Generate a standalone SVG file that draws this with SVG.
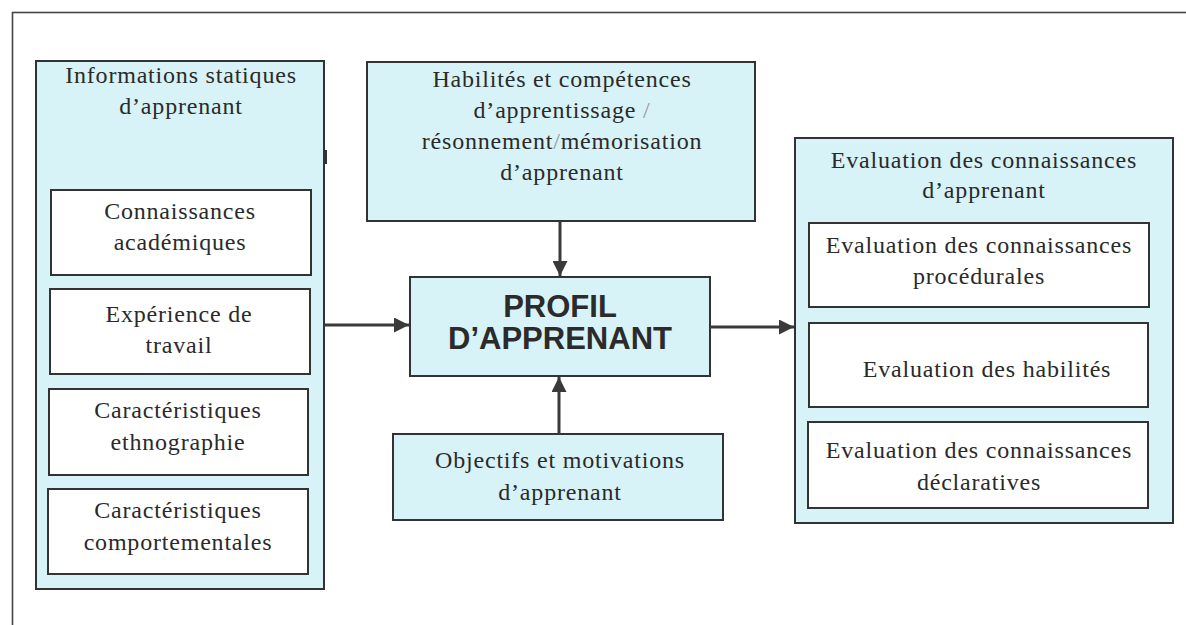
<svg xmlns="http://www.w3.org/2000/svg" width="1186" height="625" viewBox="0 0 1186 625">
  <defs>
    <style>
      .panel { fill: #d7f3f7; stroke: #333; stroke-width: 2; }
      .inner { fill: #ffffff; stroke: #333; stroke-width: 2; }
      .frame { fill: none; stroke: #444; stroke-width: 1.6; }
      .txt { font-family: "Liberation Serif", "Times New Roman", serif; font-size: 24px; fill: #2a2a2a; text-anchor: middle; letter-spacing: 0.8px; }
      .title { font-family: "Liberation Sans", Arial, sans-serif; font-weight: bold; font-size: 31px; fill: #2b2b2b; text-anchor: middle; }
      .sep { fill: #9a9a9a; }
      .conn { stroke: #3a3a3a; stroke-width: 3; fill: none; marker-end: url(#arrow); }
    </style>
    <marker id="arrow" viewBox="0 0 10 10" refX="10" refY="5" markerWidth="5" markerHeight="5" orient="auto" markerUnits="strokeWidth">
      <path d="M0,0 L10,5 L0,10 z" fill="#3a3a3a"/>
    </marker>
  </defs>

  <rect width="1186" height="625" fill="#ffffff"/>

  <!-- outer frame, running past the right and bottom edges -->
  <rect class="frame" x="12.5" y="12.5" width="1200" height="700"/>

  <!-- static learner information -->
  <g id="informations-statiques">
    <rect class="panel" x="36" y="61" width="288" height="528"/>
    <rect x="324" y="150" width="3" height="14" fill="#333"/>
    <text class="txt" x="181" y="83">Informations statiques</text>
    <text class="txt" x="181" y="114">d’apprenant</text>
  </g>
  <g id="connaissances-academiques">
    <rect class="inner" x="51" y="190" width="260" height="85"/>
    <text class="txt" x="180" y="219">Connaissances</text>
    <text class="txt" x="180" y="250">académiques</text>
  </g>
  <g id="experience-travail">
    <rect class="inner" x="50" y="289" width="260" height="85"/>
    <text class="txt" x="179" y="322">Expérience de</text>
    <text class="txt" x="179" y="353">travail</text>
  </g>
  <g id="caracteristiques-ethnographie">
    <rect class="inner" x="49" y="389" width="259" height="86"/>
    <text class="txt" x="178" y="418">Caractéristiques</text>
    <text class="txt" x="178" y="450">ethnographie</text>
  </g>
  <g id="caracteristiques-comportementales">
    <rect class="inner" x="48" y="489" width="260" height="85"/>
    <text class="txt" x="178" y="518">Caractéristiques</text>
    <text class="txt" x="178" y="550">comportementales</text>
  </g>

  <!-- learning skills -->
  <g id="habilites-competences">
    <rect class="panel" x="367" y="62" width="388" height="159"/>
    <text class="txt" x="562" y="87">Habilités et compétences</text>
    <text class="txt" x="562" y="118">d’apprentissage <tspan class="sep">/</tspan></text>
    <text class="txt" x="562" y="149">résonnement<tspan class="sep">/</tspan>mémorisation</text>
    <text class="txt" x="562" y="180">d’apprenant</text>
  </g>

  <!-- central learner profile -->
  <g id="profil-apprenant">
    <rect class="panel" x="410" y="277" width="300" height="99"/>
    <text class="title" x="560" y="317">PROFIL</text>
    <text class="title" x="560" y="349">D’APPRENANT</text>
  </g>

  <!-- goals and motivation -->
  <g id="objectifs-motivations">
    <rect class="panel" x="393" y="434" width="330" height="86"/>
    <text class="txt" x="560" y="468">Objectifs et motivations</text>
    <text class="txt" x="560" y="500">d’apprenant</text>
  </g>

  <!-- knowledge assessment -->
  <g id="evaluation-connaissances">
    <rect class="panel" x="795" y="138" width="378" height="385"/>
    <text class="txt" x="984" y="168">Evaluation des connaissances</text>
    <text class="txt" x="984" y="198">d’apprenant</text>
  </g>
  <g id="evaluation-procedurales">
    <rect class="inner" x="809" y="223" width="340" height="84"/>
    <text class="txt" x="979" y="253">Evaluation des connaissances</text>
    <text class="txt" x="979" y="284">procédurales</text>
  </g>
  <g id="evaluation-habilites">
    <rect class="inner" x="809" y="323" width="339" height="84"/>
    <text class="txt" x="987" y="377">Evaluation des habilités</text>
  </g>
  <g id="evaluation-declaratives">
    <rect class="inner" x="808" y="422" width="340" height="86"/>
    <text class="txt" x="979" y="458">Evaluation des connaissances</text>
    <text class="txt" x="979" y="490">déclaratives</text>
  </g>

  <!-- connectors -->
  <g id="connectors">
    <line class="conn" x1="560" y1="221" x2="560" y2="276"/>
    <line class="conn" x1="559" y1="434" x2="559" y2="377"/>
    <line class="conn" x1="324" y1="325" x2="409" y2="325"/>
    <line class="conn" x1="710" y1="327" x2="794" y2="327"/>
  </g>
</svg>
